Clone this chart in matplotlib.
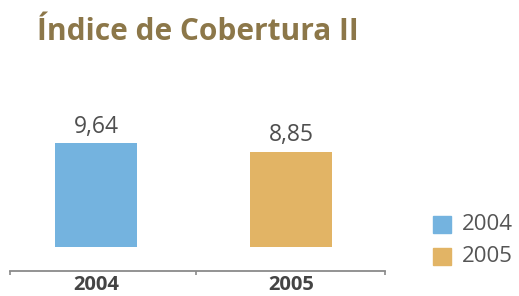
import matplotlib
matplotlib.use("Agg")
import matplotlib.pyplot as plt

# values
categories = ["2004", "2005"]
values = [9.64, 8.85]
value_labels = ["9,64", "8,85"]
bar_colors = ["#74b3df", "#e2b465"]
title = "Índice de Cobertura II"

plt.rcParams["font.family"] = ["Open Sans", "DejaVu Sans"]

W, H = 519, 296
fig = plt.figure(figsize=(W / 100, H / 100), dpi=100)

# axes in pixel coordinates: x from 10 to 385, baseline at y=247
left, right = 10, 385
base, top = 247, 97
ax = fig.add_axes([left / W, 1 - base / H, (right - left) / W, (base - top) / H])

x = [0, 1]
ax.bar(x, values, width=0.42, color=bar_colors, edgecolor="none", zorder=2)
for xi, v, lab in zip(x, values, value_labels):
    ax.text(xi, v + 0.4, lab, ha="center", va="bottom", fontsize=16.5, color="#4f4f4f")

ax.set_xlim(-0.44, 1.48)
ax.set_ylim(0, values[0] * (base - top) / 104)

for s in ["top", "left", "right"]:
    ax.spines[s].set_visible(False)
ax.spines["bottom"].set_position(("outward", 17.3))
ax.spines["bottom"].set_color("#8a8a8a")
ax.spines["bottom"].set_linewidth(1.3)
ax.set_yticks([])
ax.set_xticks(x)
ax.set_xticklabels(categories, fontsize=14.5, fontweight="bold", color="#444444")
ax.tick_params(axis="x", length=0, pad=3)
ax.set_xticks([-0.44, 0.51, 1.48], minor=True)
ax.tick_params(axis="x", which="minor", length=3, color="#8a8a8a", width=1.2)

fig.text(37 / W, 1 - 32 / H, title, fontsize=21.5, fontweight="bold", color="#8c7749",
         ha="left", va="center")

# legend
for i, (lab, c) in enumerate(zip(categories, bar_colors)):
    yc = 225 + i * 32
    fig.patches.append(plt.Rectangle((433 / W, 1 - (yc + 8) / H), 18 / W, 17 / H,
                                     transform=fig.transFigure, color=c, figure=fig))
    fig.text(462 / W, 1 - yc / H, lab, fontsize=16, color="#555555", ha="left", va="center")

fig.savefig("out.png", dpi=100)
